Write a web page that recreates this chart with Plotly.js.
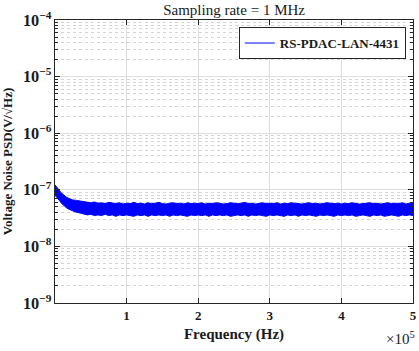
<!DOCTYPE html>
<html>
<head>
<meta charset="utf-8">
<script src="https://cdn.plot.ly/plotly-3.0.1.min.js"></script>
<style>html,body{margin:0;padding:0;background:#fff;}#chart{width:419px;height:351px;}</style>
</head>
<body>
<div id="chart"></div>
<script>
// Frequency (Hz)
const freqHz = [0,2000,4000,6000,8000,10000,13000,16000,20000,25000,30000,35000,40000,
45000,50000,55000,60000,65000,70000,75000,80000,85000,90000,95000,100000,
105000,110000,115000,120000,125000,130000,135000,140000,145000,150000,
155000,160000,165000,170000,175000,180000,185000,190000,195000,200000,
205000,210000,215000,220000,225000,230000,235000,240000,245000,250000,
255000,260000,265000,270000,275000,280000,285000,290000,295000,300000,
305000,310000,315000,320000,325000,330000,335000,340000,345000,350000,
355000,360000,365000,370000,375000,380000,385000,390000,395000,400000,
405000,410000,415000,420000,425000,430000,435000,440000,445000,450000,
455000,460000,465000,470000,475000,480000,485000,490000,495000,500000];

// Upper envelope of PSD band (V/sqrt(Hz))
const psdUpper = [12.2e-8,11.5e-8,10.5e-8,9.8e-8,9.0e-8,8.5e-8,7.9e-8,7.4e-8,7.0e-8,6.6e-8,6.5e-8,6.3e-8,6.1e-8,
6.0e-8,5.9e-8,6.1e-8,5.8e-8,5.9e-8,5.7e-8,6.0e-8,5.8e-8,5.7e-8,5.9e-8,5.6e-8,5.8e-8,
5.7e-8,6.0e-8,5.7e-8,5.8e-8,5.6e-8,5.9e-8,5.7e-8,5.8e-8,6.0e-8,5.7e-8,
5.6e-8,5.8e-8,5.9e-8,5.7e-8,5.8e-8,5.6e-8,5.9e-8,5.7e-8,5.8e-8,5.7e-8,
5.9e-8,5.6e-8,5.8e-8,5.7e-8,5.9e-8,5.8e-8,5.6e-8,5.7e-8,5.9e-8,5.8e-8,
5.7e-8,5.8e-8,6.0e-8,5.7e-8,5.8e-8,5.6e-8,5.8e-8,5.9e-8,5.7e-8,5.8e-8,
5.7e-8,5.9e-8,5.6e-8,5.8e-8,5.7e-8,5.9e-8,5.8e-8,5.7e-8,5.6e-8,5.8e-8,
5.9e-8,5.7e-8,5.8e-8,5.6e-8,5.7e-8,5.9e-8,5.8e-8,5.7e-8,5.8e-8,5.6e-8,
5.8e-8,5.7e-8,5.9e-8,5.8e-8,5.6e-8,5.7e-8,5.8e-8,5.9e-8,5.7e-8,5.8e-8,
5.6e-8,5.8e-8,5.9e-8,5.7e-8,5.8e-8,5.7e-8,5.9e-8,5.6e-8,5.8e-8,5.7e-8];

// Lower envelope of PSD band (V/sqrt(Hz))
const psdLower = [8.0e-8,7.6e-8,7.0e-8,6.5e-8,6.0e-8,5.6e-8,5.2e-8,4.8e-8,4.5e-8,4.2e-8,4.0e-8,3.9e-8,3.7e-8,
3.6e-8,3.7e-8,3.5e-8,3.6e-8,3.5e-8,3.7e-8,3.5e-8,3.6e-8,3.4e-8,3.6e-8,3.5e-8,3.6e-8,
3.5e-8,3.4e-8,3.6e-8,3.5e-8,3.6e-8,3.4e-8,3.6e-8,3.5e-8,3.6e-8,3.5e-8,
3.6e-8,3.4e-8,3.6e-8,3.5e-8,3.6e-8,3.5e-8,3.4e-8,3.6e-8,3.5e-8,3.6e-8,
3.5e-8,3.6e-8,3.4e-8,3.6e-8,3.5e-8,3.6e-8,3.5e-8,3.6e-8,3.4e-8,3.5e-8,
3.6e-8,3.5e-8,3.6e-8,3.4e-8,3.6e-8,3.5e-8,3.6e-8,3.5e-8,3.4e-8,3.6e-8,
3.5e-8,3.6e-8,3.5e-8,3.4e-8,3.6e-8,3.5e-8,3.6e-8,3.4e-8,3.6e-8,3.5e-8,
3.6e-8,3.5e-8,3.4e-8,3.6e-8,3.5e-8,3.6e-8,3.5e-8,3.4e-8,3.6e-8,3.5e-8,
3.6e-8,3.5e-8,3.6e-8,3.4e-8,3.5e-8,3.6e-8,3.5e-8,3.4e-8,3.6e-8,3.5e-8,
3.6e-8,3.4e-8,3.5e-8,3.6e-8,3.5e-8,3.4e-8,3.6e-8,3.5e-8,3.6e-8,3.5e-8];

const xTickVals = [100000,200000,300000,400000,500000];
const xTickText = ['1','2','3','4','5'];
const seriesName = 'RS-PDAC-LAN-4431';

const FONT = 'Liberation Serif, Times New Roman, serif';
const AX = '#262626';

const traces = [
  {x: freqHz, y: psdLower, type: 'scatter', mode: 'lines', name: seriesName,
   line: {color: '#0000ff', width: 1}, showlegend: true, hoverinfo: 'skip'},
  {x: freqHz, y: psdUpper, type: 'scatter', mode: 'lines', fill: 'tonexty',
   fillcolor: '#0000ff', line: {color: '#0000ff', width: 1}, showlegend: false, hoverinfo: 'skip'}
];

const layout = {
  width: 419, height: 351,
  margin: {l: 55, r: 6, t: 20, b: 48},
  paper_bgcolor: '#fff', plot_bgcolor: '#fff',
  font: {family: FONT, color: '#1a1a1a'},
  title: {text: 'Sampling rate = 1 MHz', font: {family: FONT, size: 15, color: '#1a1a1a'},
          x: 0.5587, xanchor: 'center', y: 0.973, yanchor: 'middle'},
  showlegend: true,
  legend: {x: 0.98, xanchor: 'right', y: 0.975, yanchor: 'top',
           bgcolor: '#fff', bordercolor: AX, borderwidth: 1,
           font: {family: FONT, size: 13, weight: 'bold', color: '#1a1a1a'},
           tracegroupgap: 0, itemwidth: 30},
  xaxis: {
    range: [0, 500000], tickvals: xTickVals, ticktext: xTickText,
    ticks: 'inside', ticklen: 5, tickcolor: AX, mirror: 'ticks',
    showline: true, linecolor: AX, linewidth: 1,
    showgrid: true, gridcolor: '#dedede', gridwidth: 1, zeroline: false,
    tickfont: {family: FONT, size: 13, weight: 'bold', color: '#1a1a1a'},
    title: {text: 'Frequency (Hz)', font: {family: FONT, size: 15, weight: 'bold', color: '#1a1a1a'}, standoff: 6}
  },
  yaxis: {
    type: 'log', range: [-9, -4], dtick: 1, exponentformat: 'power',
    ticks: 'inside', ticklen: 5, tickcolor: AX, mirror: 'ticks',
    showline: true, linecolor: AX, linewidth: 1,
    showgrid: true, gridcolor: '#dedede', gridwidth: 1, zeroline: false,
    tickfont: {family: FONT, size: 13, weight: 'bold', color: '#1a1a1a'},
    minor: {ticks: 'inside', ticklen: 3, tickcolor: AX, dtick: 'D1',
            showgrid: true, gridcolor: '#d4d4d4', griddash: 'dot', gridwidth: 1},
    title: {text: 'Voltage Noise PSD(V/√Hz)', font: {family: FONT, size: 13, weight: 'bold', color: '#1a1a1a'}, standoff: 8}
  },
  annotations: [
    {text: '×10<sup>5</sup>', xref: 'paper', yref: 'paper', x: 1.012, xanchor: 'right',
     y: -0.125, yanchor: 'middle', showarrow: false,
     font: {family: FONT, size: 15, color: '#1a1a1a'}}
  ]
};

Plotly.newPlot('chart', traces, layout, {displayModeBar: false, staticPlot: true});
</script>
</body>
</html>
